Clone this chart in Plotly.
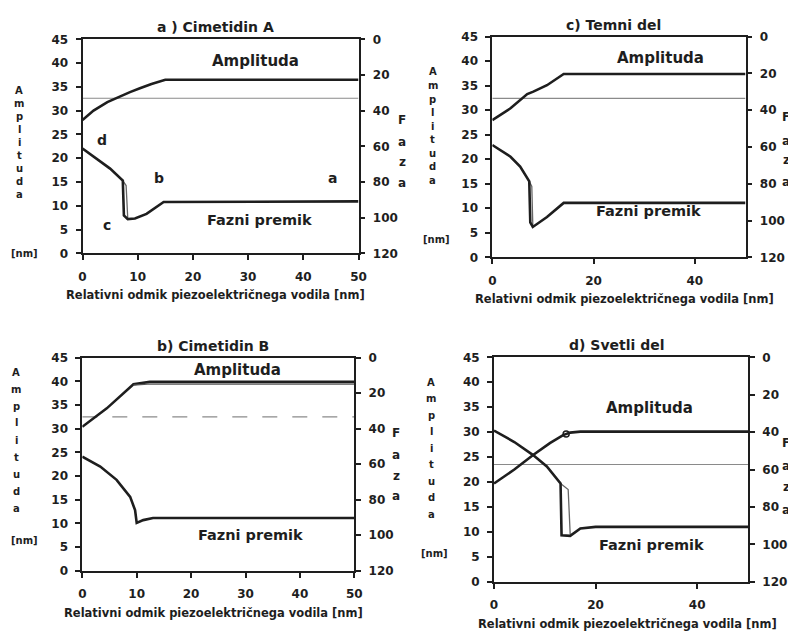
import plotly.graph_objects as go

# ---------------- data ----------------
# a) Cimetidin A
a_amp_x = [0, 2, 4.5, 6.7, 8.6, 10.4, 12.5, 15, 50]
a_amp_y = [28.0, 30.0, 31.8, 33.0, 33.9, 34.7, 35.6, 36.5, 36.5]
a_ph_x = [0, 3.3, 5, 7.3, 7.5, 8.2, 9.5, 11.6, 14.7, 50]
a_ph_deg = [61.3, 68.5, 72.5, 79.2, 98.7, 100.8, 100.5, 97.9, 91.2, 90.9]
a_ph2_x = [7.3, 7.9, 8.2]
a_ph2_deg = [79.2, 82.0, 100.5]
a_ref_x = [0, 50]
a_ref_y = [32.6, 32.6]

# c) Temni del
c_amp_x = [0, 3.6, 6.9, 8.1, 10.8, 14.1, 50]
c_amp_y = [28.0, 30.4, 33.3, 33.8, 35.1, 37.4, 37.4]
c_ph_x = [0, 3.6, 5.5, 7.3, 7.5, 8.0, 10.8, 14.1, 50]
c_ph_deg = [58.9, 65.3, 70.7, 78.7, 101.0, 103.5, 98.1, 90.4, 90.4]
c_ph2_x = [7.3, 7.8, 8.0]
c_ph2_deg = [78.7, 81.5, 102.5]
c_ref_x = [0, 50]
c_ref_y = [32.4, 32.4]

# b) Cimetidin B
b_amp_x = [0, 4.5, 9.4, 12.4, 50]
b_amp_y = [30.4, 34.3, 39.4, 39.9, 39.9]
b_amp2_x = [9.4, 12.0, 50]
b_amp2_y = [39.2, 39.4, 39.4]
b_ph_x = [0, 3.3, 6.3, 8.8, 9.7, 10.0, 11.2, 13, 50]
b_ph_deg = [55.7, 61.3, 68.8, 78.4, 85.9, 93.1, 91.5, 90.3, 90.3]
b_ref_x = [0, 50]
b_ref_y = [32.5, 32.5]

# d) Svetli del
d_amp_x = [0, 4, 7.7, 11, 13.6, 15, 17, 50]
d_amp_y = [19.7, 22.5, 25.4, 27.8, 29.4, 29.9, 30.1, 30.1]
d_loop_x = [14.2]
d_loop_y = [29.6]
d_ph_x = [0, 4, 7.7, 10.4, 13.1, 13.3, 15, 17, 20, 50]
d_ph_deg = [39.2, 45.3, 52.3, 58.4, 67.5, 95.2, 95.5, 91.5, 90.7, 90.7]
d_ph2_x = [13.1, 14.6, 15.0]
d_ph2_deg = [67.5, 70.7, 94.7]
d_ref_x = [0, 50]
d_ref_y = [23.5, 23.5]

amp_ticks = [0, 5, 10, 15, 20, 25, 30, 35, 40, 45]
phase_ticks = [0, 20, 40, 60, 80, 100, 120]
x_ticks_ab = [0, 10, 20, 30, 40, 50]
x_ticks_cd = [0, 20, 40]

titles = ["a ) Cimetidin A", "c) Temni del", "b) Cimetidin B", "d) Svetli del"]
xtitle = "Relativni odmik piezoelektričnega vodila [nm]"

# ---------------- figure ----------------
W, H = 796, 632
OFF = 8  # page body margin: the figure is drawn 8 px from the window corner
FONT = "DejaVu Sans"
INK = "#1e1e1e"


def px(x):
    return (x - OFF) / W


def py(y):
    return 1 - (y - OFF) / H


fig = go.Figure()

# panel boxes in window pixels: (left, right, top, bottom)
boxes = [
    (82.5, 358.5, 39.3, 253.3),   # a
    (492.3, 745.5, 36.7, 257.3),  # c
    (82.3, 354.3, 357.7, 570.7),  # b
    (494.0, 748.0, 357.3, 581.7), # d
]

panels = [
    dict(amp=(a_amp_x, a_amp_y), ph=(a_ph_x, a_ph_deg), ph2=(a_ph2_x, a_ph2_deg),
         ref=(a_ref_x, a_ref_y), xt=x_ticks_ab),
    dict(amp=(c_amp_x, c_amp_y), ph=(c_ph_x, c_ph_deg), ph2=(c_ph2_x, c_ph2_deg),
         ref=(c_ref_x, c_ref_y), xt=x_ticks_cd),
    dict(amp=(b_amp_x, b_amp_y), amp2=(b_amp2_x, b_amp2_y), ph=(b_ph_x, b_ph_deg),
         ref=(b_ref_x, b_ref_y), xt=x_ticks_ab, refdash="longdash"),
    dict(amp=(d_amp_x, d_amp_y), ph=(d_ph_x, d_ph_deg), ph2=(d_ph2_x, d_ph2_deg),
         ref=(d_ref_x, d_ref_y), xt=x_ticks_cd, loop=(d_loop_x, d_loop_y)),
]

tickfont = dict(family=FONT, size=12, color=INK, weight="bold")
layout = dict(
    width=W, height=H, margin=dict(l=0, r=0, t=0, b=0, autoexpand=False),
    paper_bgcolor="white", plot_bgcolor="white", showlegend=False,
)
annotations = []

for i, (p, box) in enumerate(zip(panels, boxes)):
    L, R, T, B = box
    xi = i + 1
    yl = 2 * i + 1
    yr = 2 * i + 2
    xname = "x" if xi == 1 else f"x{xi}"
    ylname = "y" if yl == 1 else f"y{yl}"
    yrname = f"y{yr}"

    # reference thin line
    fig.add_trace(go.Scatter(x=p["ref"][0], y=p["ref"][1], mode="lines",
                             line=dict(color="#8a8a8a", width=1.2, dash=p.get("refdash", "solid")),
                             xaxis=xname, yaxis=ylname, hoverinfo="skip"))
    # amplitude
    fig.add_trace(go.Scatter(x=p["amp"][0], y=p["amp"][1], mode="lines",
                             line=dict(color=INK, width=2.6),
                             xaxis=xname, yaxis=ylname, name="Amplituda"))
    if "amp2" in p:
        fig.add_trace(go.Scatter(x=p["amp2"][0], y=p["amp2"][1], mode="lines",
                                 line=dict(color="#555", width=1.2),
                                 xaxis=xname, yaxis=ylname, hoverinfo="skip"))
    if "loop" in p:
        fig.add_trace(go.Scatter(x=p["loop"][0], y=p["loop"][1], mode="markers",
                                 marker=dict(symbol="circle-open", size=6,
                                             color=INK, line=dict(width=1.5)),
                                 xaxis=xname, yaxis=ylname, hoverinfo="skip"))
    # phase on right axis
    if "ph2" in p:
        fig.add_trace(go.Scatter(x=p["ph2"][0], y=p["ph2"][1], mode="lines",
                                 line=dict(color="#666", width=1.3),
                                 xaxis=xname, yaxis=yrname, hoverinfo="skip"))
    fig.add_trace(go.Scatter(x=p["ph"][0], y=p["ph"][1], mode="lines",
                             line=dict(color=INK, width=2.6),
                             xaxis=xname, yaxis=yrname, name="Fazni premik"))

    xkey = "xaxis" if xi == 1 else f"xaxis{xi}"
    ylkey = "yaxis" if yl == 1 else f"yaxis{yl}"
    yrkey = f"yaxis{yr}"
    layout[xkey] = dict(
        domain=[px(L), px(R)], anchor=ylname, range=[0, 50],
        tickvals=p["xt"], ticks="outside", ticklen=5, tickwidth=1.5, tickcolor=INK,
        showline=True, linecolor=INK, linewidth=2, mirror=True,
        showgrid=False, zeroline=False, tickfont=tickfont, ticklabelstandoff=6,
    )
    layout[ylkey] = dict(
        domain=[py(B), py(T)], anchor=xname, range=[0, 45],
        tickvals=amp_ticks, ticks="outside", ticklen=5, tickwidth=1.5, tickcolor=INK,
        showline=True, linecolor=INK, linewidth=1.8,
        showgrid=False, zeroline=False, tickfont=tickfont, ticklabelstandoff=5,
    )
    layout[yrkey] = dict(
        overlaying=ylname, side="right", anchor=xname, range=[120, 0],
        tickvals=phase_ticks, ticks="outside", ticklen=5, tickwidth=1.5, tickcolor=INK,
        showline=True, linecolor=INK, linewidth=1.8,
        showgrid=False, zeroline=False, tickfont=tickfont, ticklabelstandoff=5,
    )

    # panel title
    annotations.append(dict(text=titles[i], x=px((L + R) / 2 - 5), y=py(T - 12),
                            xref="paper", yref="paper", showarrow=False,
                            font=dict(family=FONT, size=14, color=INK, weight="bold"),
                            xanchor="center", yanchor="middle"))
    # x-axis title
    annotations.append(dict(text=xtitle, x=px((L + R) / 2 + (6 if i % 2 else -5)),
                            y=py(B + 42), xref="paper", yref="paper", showarrow=False,
                            font=dict(family=FONT, size=11.5, color=INK, weight="bold"),
                            xanchor="center", yanchor="middle"))

# vertical left titles "Amplituda [nm]"
left_titles = [
    (19, 90, 13, 253),
    (433, 72, 13.5, 240),
    (16, 372, 17, 540),
    (431, 382, 16.5, 553),
]
for (lx, ly0, step, nmy) in left_titles:
    for k, ch in enumerate("Amplituda"):
        annotations.append(dict(text=ch, x=px(lx), y=py(ly0 + k * step),
                                xref="paper", yref="paper", showarrow=False,
                                font=dict(family=FONT, size=10, color=INK, weight="bold"),
                                xanchor="center", yanchor="middle"))
    annotations.append(dict(text="[nm]", x=px(max(lx + 3, 24)), y=py(nmy),
                            xref="paper", yref="paper", showarrow=False,
                            font=dict(family=FONT, size=10, color=INK, weight="bold"),
                            xanchor="center", yanchor="middle"))

# vertical right titles "Faza"
right_titles = [
    (402, [120, 142, 162, 183]),
    (786, [117, 141, 160, 182]),
    (396, [433, 455, 476, 496]),
    (786, [443, 466, 487, 510]),
]
for (rx, ys) in right_titles:
    for ch, yy in zip("Faza", ys):
        annotations.append(dict(text=ch, x=px(rx), y=py(yy),
                                xref="paper", yref="paper", showarrow=False,
                                font=dict(family=FONT, size=12, color=INK, weight="bold"),
                                xanchor="center", yanchor="middle"))

# inside labels (data coordinates)
inside = [
    ("x", "y", 31.3, 40.4, 32.0, 7.0),
    ("x2", "y3", 33.2, 40.7, 30.8, 9.4),
    ("x3", "y5", 28.5, 42.5, 30.9, 7.6),
    ("x4", "y7", 30.7, 34.8, 31.1, 7.3),
]
for (xr, yr, ax_, ay_, fx_, fy_) in inside:
    annotations.append(dict(text="Amplituda", x=ax_, y=ay_, xref=xr, yref=yr,
                            showarrow=False,
                            font=dict(family=FONT, size=15, color=INK, weight="bold")))
    annotations.append(dict(text="Fazni premik", x=fx_, y=fy_, xref=xr, yref=yr,
                            showarrow=False,
                            font=dict(family=FONT, size=14.5, color=INK, weight="bold")))

# curve letters in panel a
for ch, lx, ly in [("d", 3.6, 23.8), ("b", 13.8, 15.8), ("a", 45.3, 15.8), ("c", 4.5, 5.9)]:
    annotations.append(dict(text=ch, x=lx, y=ly, xref="x", yref="y", showarrow=False,
                            font=dict(family=FONT, size=14, color=INK, weight="bold")))

layout["annotations"] = annotations
fig.update_layout(**layout)
fig.write_html("out.html")
